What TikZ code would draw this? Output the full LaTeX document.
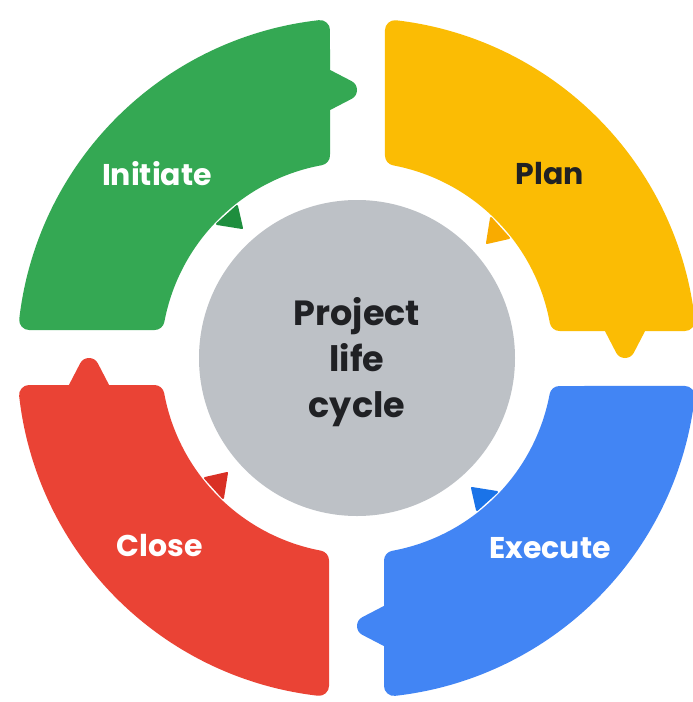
\documentclass[tikz,border=0pt]{standalone}
\usepackage{fontspec}
\setmainfont{Poppins}
\definecolor{ggreen}{HTML}{34A853}
\definecolor{ggreendk}{HTML}{1E8E3E}
\definecolor{gyellow}{HTML}{FBBC04}
\definecolor{gyellowdk}{HTML}{F9AB00}
\definecolor{gblue}{HTML}{4285F4}
\definecolor{gbluedk}{HTML}{1A73E8}
\definecolor{gred}{HTML}{EA4335}
\definecolor{greddk}{HTML}{D93025}
\definecolor{ggrey}{HTML}{BDC1C6}
\definecolor{gink}{HTML}{202124}
\newcommand{\lcsegment}[3]{%
  \begin{scope}[shift={(357,358)},rotate=#1]
    \filldraw[fill=#2,draw=#2,line width=20pt,line join=round]
      (186.61:330) arc[start angle=186.61,end angle=263.56,radius=330]
      -- (-37,-282) -- (-10,-268) -- (-37,-254)
      -- (259.65:206) arc[start angle=259.65,end angle=190.63,radius=206]
      -- cycle;
    \filldraw[fill=#3,draw=#3,line width=2pt,line join=round]
      (-140,-134) -- (-120,-152) -- (-115,-130) -- cycle;
  \end{scope}}
\tikzset{
  seglabel/.style={font=\fontsize{30}{36}\selectfont\bfseries,anchor=center,inner sep=0pt},
  hub/.style={circle,fill=ggrey,minimum size=316pt,inner sep=0pt,align=center,
    font=\fontsize{35}{46}\selectfont\bfseries,text=gink}
}
\begin{document}
\begin{tikzpicture}[x=1pt,y=-1pt]
  \useasboundingbox (0,0) rectangle (693,702);
  \fill[white] (0,0) rectangle (693,702);
  \lcsegment{0}{ggreen}{ggreendk}
  \lcsegment{-90}{gyellow}{gyellowdk}
  \lcsegment{-180}{gblue}{gbluedk}
  \lcsegment{-270}{gred}{greddk}
  \node[hub] (center) at (357,358) {};
  \node[font=\fontsize{35}{46}\selectfont\bfseries,text=gink,align=center,inner sep=0pt]
    (centertext) at (357,362) {Project\\life\\cycle};
  \node[seglabel,text=white] (initiate) at (157,174) {Initiate};
  \node[seglabel,text=gink] (plan) at (550,174) {Plan};
  \node[seglabel,text=white] (execute) at (550,548) {Execute};
  \node[seglabel,text=white] (close) at (160,546) {Close};
\end{tikzpicture}
\end{document}
